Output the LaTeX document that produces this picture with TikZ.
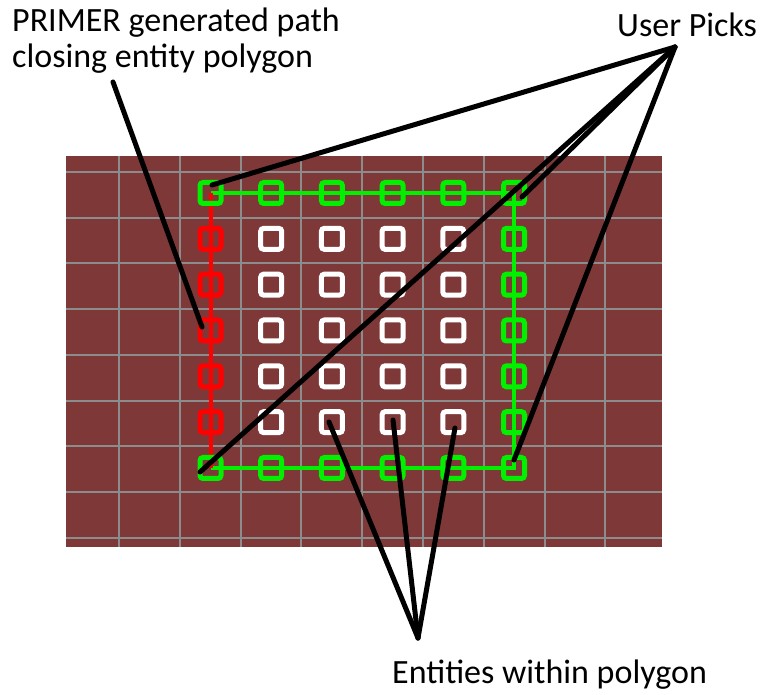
\documentclass[tikz,border=0pt]{standalone}
\usepackage{fontspec}
\setmainfont{Carlito}
\definecolor{brick}{HTML}{7F3838}
\definecolor{gridgray}{HTML}{8C8C8C}
\definecolor{pickgreen}{HTML}{00F000}
\definecolor{pathred}{HTML}{FF0000}
\begin{document}
\begin{tikzpicture}[x=1pt,y=-1pt,
  ent/.style={draw=#1,line width=5pt,rounded corners=3pt,minimum size=21pt,inner sep=0pt,rectangle},
  lbl/.style={font=\fontsize{34}{36.3}\selectfont,inner sep=0pt,text=black},
  ptr/.style={draw=black,line width=5pt,line cap=round},
  polyline/.style={line width=4pt}]
\useasboundingbox (0,0) rectangle (761,695);
% background board
\fill[brick] (66,156) rectangle (662,547);
\foreach \k in {0,...,8}{
  \draw[gridgray,line width=2pt] ({119+60.8*\k},156) -- ({119+60.8*\k},547);
  \draw[gridgray,line width=2pt] (66,{172+45.7*\k}) -- (662,{172+45.7*\k});
}
% polygon path
\draw[pickgreen,polyline] (210.5,193) -- (514,193) -- (514,468) -- (210.5,468);
\draw[pathred,polyline] (210.5,193) -- (210.5,468);
% entities
\foreach \i in {1,...,6}{
  \foreach \j in {1,...,7}{
    \pgfmathsetmacro{\xx}{210.5+60.7*(\i-1)}
    \pgfmathsetmacro{\yy}{193+45.83*(\j-1)}
    \ifnum\j=1
      \node[ent=pickgreen] (s\i\j) at (\xx,\yy) {};
    \else\ifnum\j=7
      \node[ent=pickgreen] (s\i\j) at (\xx,\yy) {};
    \else\ifnum\i=1
      \node[ent=pathred] (s\i\j) at (\xx,\yy) {};
    \else\ifnum\i=6
      \node[ent=pickgreen] (s\i\j) at (\xx,\yy) {};
    \else
      \node[ent=white] (s\i\j) at (\xx,\yy) {};
    \fi\fi\fi\fi
  }
}
% labels
\node[lbl,anchor=base west,align=left] (primer) at (12,68) {PRIMER generated path\\closing entity polygon};
\node[lbl,anchor=base west] (picks) at (617,37) {User Picks};
\node[lbl,anchor=base west] (within) at (392,683) {Entities within polygon};
\coordinate (pa) at (113,82);
\coordinate (pb) at (675,47);
\coordinate (pc) at (418,638);
% pointers
\draw[ptr] (pa) -- (202,327);
\draw[ptr] (pb) -- (212,185);
\draw[ptr] (pb) -- (200,472);
\draw[ptr] (pb) -- (522,197);
\draw[ptr] (pb) -- (514,460);
\draw[ptr] (pc) -- (329,422);
\draw[ptr] (pc) -- (393,420);
\draw[ptr] (pc) -- (455,428);
\end{tikzpicture}
\end{document}
